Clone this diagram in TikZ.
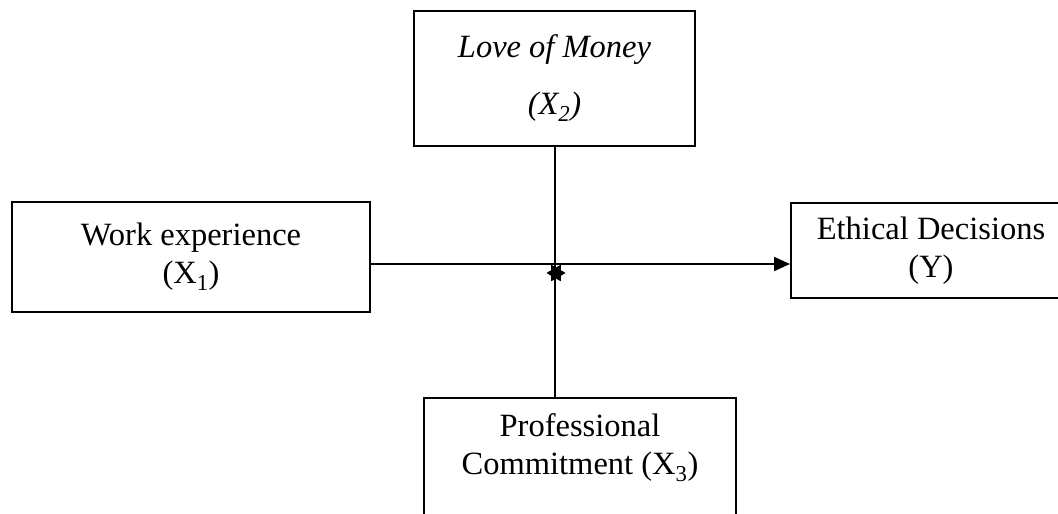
\documentclass[tikz,border=0pt]{standalone}
\usepackage{fontspec}
\setmainfont{Liberation Serif}
\usetikzlibrary{shapes.geometric,arrows.meta}

\tikzset{
  varbox/.style={draw=black, line width=2pt, align=center,
    font=\fontsize{32.5}{38}\selectfont, inner sep=0pt},
  link/.style={line width=2pt},
}

\begin{document}
\begin{tikzpicture}[x=1pt,y=-1pt]
  \useasboundingbox (0,0) rectangle (1058,514);
  \clip (0,0) rectangle (1058,514);
  % moderators
  \node[varbox, minimum width=281, minimum height=135] (money) at (554.5,78.5)
    {\textit{Love of Money}\\[19pt]\textit{(X\textsubscript{2})}};
  \node[varbox, minimum width=312, anchor=north, inner ysep=16pt, text depth=80pt] (commit) at (580,397)
    {Professional\\Commitment (X\textsubscript{3})};
  % independent and dependent
  \node[varbox, minimum width=358, minimum height=110] (work) at (191,257)
    {Work experience\\(X\textsubscript{1})};
  \node[varbox, minimum width=280, minimum height=95, anchor=north west] (ethic) at (790,202)
    {Ethical Decisions\\(Y)};
  \coordinate (hub) at (555,264);
  \draw[link, -{Triangle[length=16pt,width=14pt]}] (work.east |- hub) -- (ethic.west |- hub);
  \draw[link] (money.south -| hub) -- (commit.north -| hub);
  \node[star, star points=6, star point ratio=1.7, shape border rotate=90, fill=black, minimum size=19, inner sep=0pt] (knot) at (556,273) {};
\end{tikzpicture}
\end{document}
